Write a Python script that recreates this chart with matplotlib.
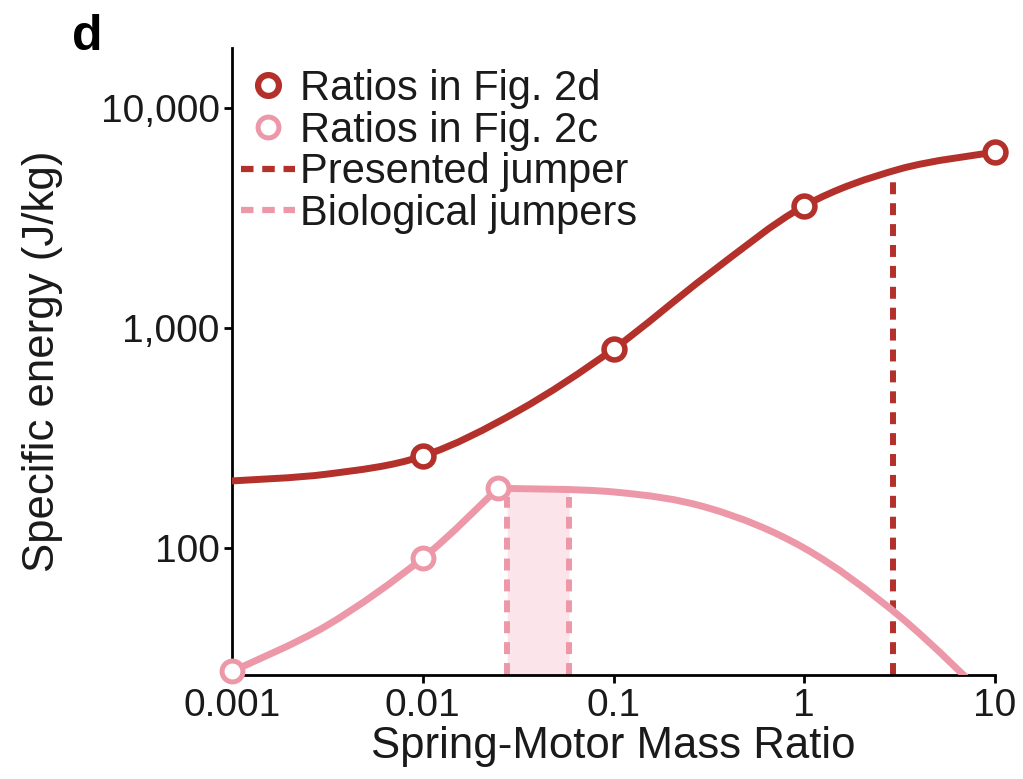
import matplotlib
matplotlib.use("Agg")
import numpy as np
import matplotlib.pyplot as plt
from matplotlib.lines import Line2D
from matplotlib.path import Path
from matplotlib.patches import PathPatch
from matplotlib.ticker import FixedLocator, FixedFormatter, NullLocator

plt.rcParams['font.family'] = ['Liberation Sans', 'DejaVu Sans']

# ---- data ----
# Ratios in Fig. 2d (dark red): curve read at half-decade steps, and markers
d_curve_x = [0.001, 0.00316, 0.01, 0.0316, 0.1, 0.316, 1, 3.16, 10]
d_curve_y = [202, 217, 262, 420, 803, 1760, 3590, 5280, 6310]
d_mark_x = [0.01, 0.1, 1, 10]
d_mark_y = [262, 803, 3590, 6310]

# Ratios in Fig. 2c (pink): rising part (up to the peak) and falling part
c_rise_x = [0.001, 0.00316, 0.01, 0.0248]
c_rise_y = [27.5, 44.6, 90, 187]
c_fall_x = [0.0248, 0.1, 0.316, 1, 3.16, 10]
c_fall_y = [187, 180, 152, 100, 49, 19.3]
c_mark_x = [0.001, 0.01, 0.0248]
c_mark_y = [27.5, 90, 187]

# Presented jumper / biological jumpers ratios
presented_x = 2.92
presented_top = 4600
bio_x = [0.0277, 0.0585]
bio_dash_top = [170, 170]
bio_fill_top = [187, 185]

x_ticks = [0.001, 0.01, 0.1, 1, 10]
x_labels = ['0.001', '0.01', '0.1', '1', '10']
y_ticks = [100, 1000, 10000]
y_labels = ['100', '1,000', '10,000']

DARK = '#B3302B'
PINK = '#EC98A8'
SHADE = '#FCE5EA'
YMIN, YMAX = 26.5, 18750


def smooth_path(xs, ys):
    """Catmull-Rom curve through the points, built in log-log space and
    returned as a Bezier path in data coordinates."""
    lx = np.log10(np.asarray(xs, float))
    ly = np.log10(np.asarray(ys, float))
    P = np.column_stack([lx, ly])
    n = len(P)
    verts = [P[0]]
    codes = [Path.MOVETO]
    for i in range(n - 1):
        p0 = P[i - 1] if i > 0 else P[i]
        p1, p2 = P[i], P[i + 1]
        p3 = P[i + 2] if i + 2 < n else P[i + 1]
        c1 = p1 + (p2 - p0) / 6.0
        c2 = p2 - (p3 - p1) / 6.0
        verts += [c1, c2, p2]
        codes += [Path.CURVE4] * 3
    V = 10 ** np.array(verts)
    return Path(V, codes)


fig = plt.figure(figsize=(10.23, 7.79), dpi=100)
ax = fig.add_axes([232/1023, 1-675/779, (995-232)/1023, (675-48)/779])
ax.set_xscale('log')
ax.set_yscale('log')
ax.set_xlim(0.001, 10)
ax.set_ylim(YMIN, YMAX)
ax.set_autoscale_on(False)

# shaded region of biological jumpers
ax.fill_between(bio_x, [YMIN, YMIN], bio_fill_top, color=SHADE, lw=0, zorder=1)
for bx, bt in zip(bio_x, bio_dash_top):
    ax.plot([bx, bx], [YMIN, bt], color=PINK, lw=4.3, dashes=(2.0, 1.5),
            zorder=2)
ax.plot([presented_x, presented_x], [YMIN, presented_top], color=DARK, lw=4.3,
        dashes=(2.0, 1.5), zorder=2)

for xs, ys, col, z in [(c_rise_x, c_rise_y, PINK, 3), (c_fall_x, c_fall_y, PINK, 3),
                       (d_curve_x, d_curve_y, DARK, 4)]:
    ax.add_patch(PathPatch(smooth_path(xs, ys), fill=False, edgecolor=col,
                           lw=5.0, capstyle='round', joinstyle='round', zorder=z))

ax.plot(c_mark_x, c_mark_y, 'o', ms=15, mfc='white', mec=PINK, mew=3.6,
        zorder=5, clip_on=False)
ax.plot(d_mark_x, d_mark_y, 'o', ms=15, mfc='white', mec=DARK, mew=4.0,
        zorder=6, clip_on=False)

for s in ['top', 'right']:
    ax.spines[s].set_visible(False)
for s in ['left', 'bottom']:
    ax.spines[s].set_linewidth(2.0)
    ax.spines[s].set_color('black')

ax.xaxis.set_major_locator(FixedLocator(x_ticks))
ax.xaxis.set_major_formatter(FixedFormatter(x_labels))
ax.yaxis.set_major_locator(FixedLocator(y_ticks))
ax.yaxis.set_major_formatter(FixedFormatter(y_labels))
ax.xaxis.set_minor_locator(NullLocator())
ax.yaxis.set_minor_locator(NullLocator())
ax.tick_params(axis='both', which='major', direction='out', length=6, width=2,
               labelsize=28, pad=3, color='black', labelcolor='#1a1a1a')

ax.set_xlabel('Spring-Motor Mass Ratio', fontsize=31.5, labelpad=2, color='#1a1a1a')
ax.set_ylabel('Specific energy (J/kg)', fontsize=31.5, labelpad=27, color='#1a1a1a')

fig.text(72/1023, 1-50/779, 'd', fontsize=36, fontweight='bold', ha='left',
         va='baseline')

handles = [
    Line2D([], [], ls='none', marker='o', ms=15, mfc='white', mec=DARK, mew=4.5),
    Line2D([], [], ls='none', marker='o', ms=15, mfc='white', mec=PINK, mew=3.6),
    Line2D([], [], color=DARK, lw=4.5, dashes=(2.0, 1.4)),
    Line2D([], [], color=PINK, lw=4.5, dashes=(2.0, 1.4)),
]
labels = ['Ratios in Fig. 2d', 'Ratios in Fig. 2c', 'Presented jumper',
          'Biological jumpers']
leg = ax.legend(handles, labels, loc='upper left',
                bbox_to_anchor=(241/1023, 1-69/779), bbox_transform=fig.transFigure,
                frameon=False, fontsize=30, handlelength=1.3, handletextpad=0.12,
                labelspacing=0.04, borderpad=0, borderaxespad=0)
for t in leg.get_texts():
    t.set_color('#1a1a1a')

fig.savefig('out.png', dpi=100, facecolor='white')
